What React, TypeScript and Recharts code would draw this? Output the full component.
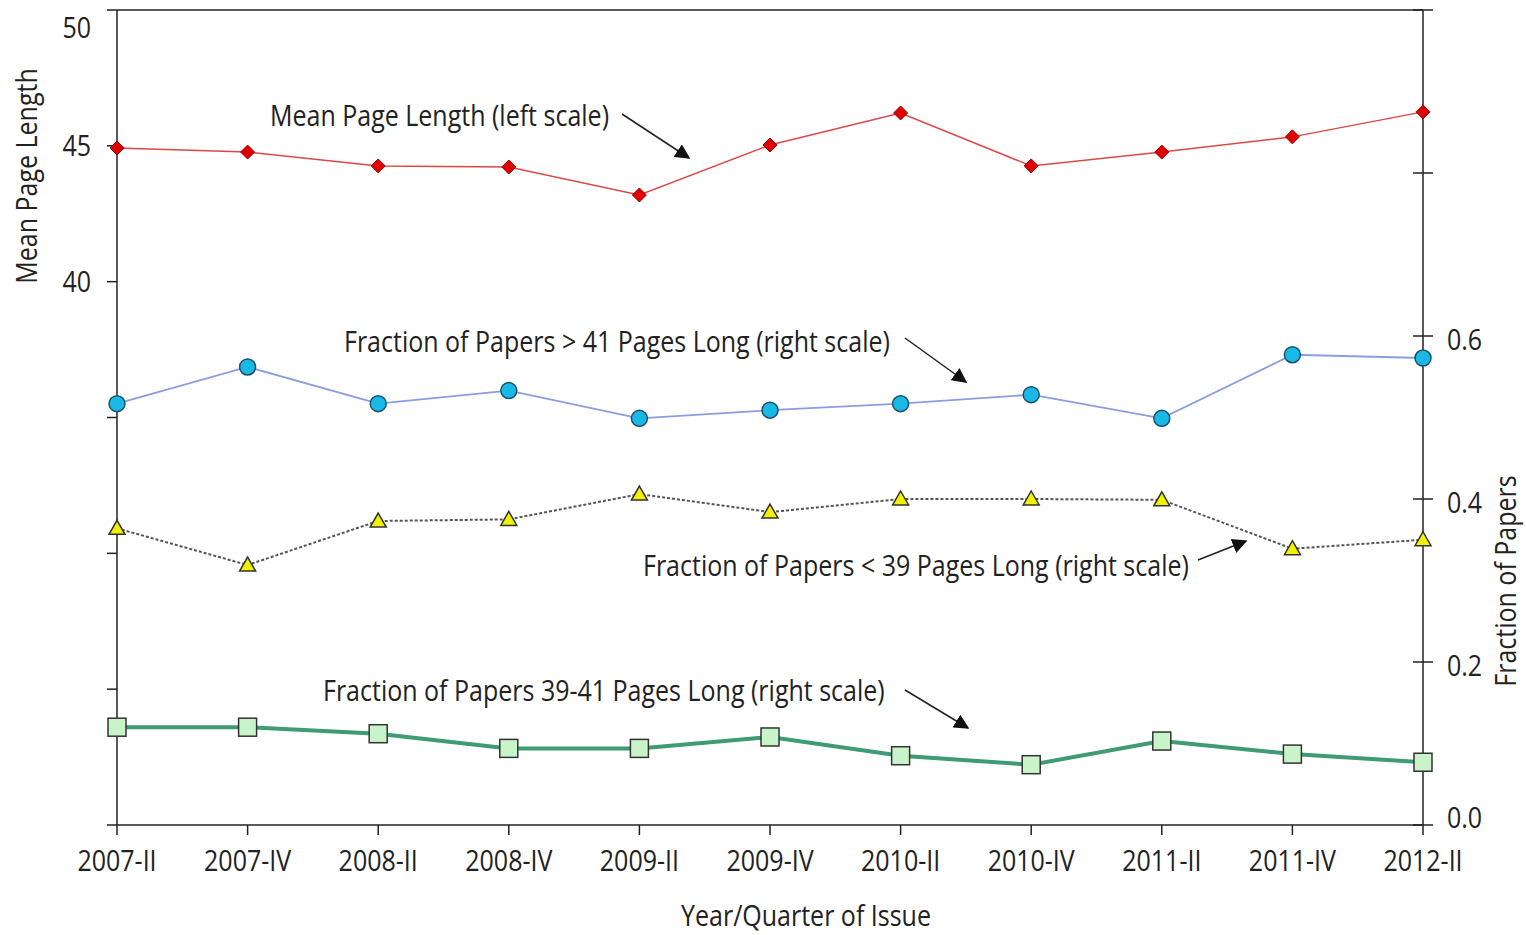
import React from 'react';
import { LineChart, Line, XAxis, YAxis, ReferenceLine } from 'recharts';

// values
const quarters = [
  '2007-II', '2007-IV', '2008-II', '2008-IV', '2009-II', '2009-IV',
  '2010-II', '2010-IV', '2011-II', '2011-IV', '2012-II',
];
const meanPageLength = [44.92, 44.77, 44.26, 44.22, 43.19, 45.03, 46.21, 44.26, 44.77, 45.33, 46.25];
const fracOver41 = [0.517, 0.562, 0.517, 0.533, 0.499, 0.509, 0.517, 0.528, 0.499, 0.577, 0.573];
const fracUnder39 = [0.364, 0.319, 0.373, 0.375, 0.406, 0.384, 0.4, 0.4, 0.399, 0.339, 0.35];
const frac39to41 = [0.12, 0.12, 0.112, 0.094, 0.094, 0.108, 0.085, 0.074, 0.103, 0.087, 0.077];

const leftTicks = [20, 25, 30, 35, 40, 45, 50];
const rightTicks = [0, 0.2, 0.4, 0.6, 0.8, 1.0];

const data = quarters.map((q, i) => ({
  quarter: q,
  mean: meanPageLength[i],
  over41: fracOver41[i],
  under39: fracUnder39[i],
  mid: frac39to41[i],
}));

const FONT = '"Open Sans", "Noto Sans", sans-serif';
const STRETCH = 1.2; // reference lettering is taller than Open Sans

// text centred vertically on (x, y), a little stretched vertically
const T = ({ x, y, anchor = 'start', rotate = 0, size = 25, children }: any) => (
  <text transform={`translate(${x},${y}) rotate(${rotate}) scale(1,${STRETCH})`} dy="0.35em"
    textAnchor={anchor} fontFamily={FONT} fontSize={size} fill="#222">
    {children}
  </text>
);

const Diamond = (p: any) => {
  const { cx, cy } = p;
  if (cx == null || cy == null) return null;
  const s = 7;
  return (
    <path key={`dm-${p.index}`} d={`M${cx},${cy - s}L${cx + s},${cy}L${cx},${cy + s}L${cx - s},${cy}Z`}
      fill="#e00000" stroke="#9a0000" strokeWidth={1} />
  );
};

const Circle = (p: any) => {
  const { cx, cy } = p;
  if (cx == null || cy == null) return null;
  return <circle key={`ci-${p.index}`} cx={cx} cy={cy} r={8} fill="#19b9e6" stroke="#1d4f6e" strokeWidth={1.5} />;
};

const Triangle = (p: any) => {
  const { cx, cy } = p;
  if (cx == null || cy == null) return null;
  return (
    <path key={`tr-${p.index}`} d={`M${cx},${cy - 8}L${cx + 8},${cy + 6}L${cx - 8},${cy + 6}Z`}
      fill="#f2f200" stroke="#333" strokeWidth={1.5} />
  );
};

const Square = (p: any) => {
  const { cx, cy } = p;
  if (cx == null || cy == null) return null;
  return <rect key={`sq-${p.index}`} x={cx - 9} y={cy - 9} width={18} height={18} fill="#c9f3c9" stroke="#333" strokeWidth={1.5} />;
};

const LeftTick = (p: any) => {
  const v = p.payload.value;
  if (v < 40) return null;
  return <T x={p.x} y={v === 50 ? p.y + 17 : p.y} anchor="end">{v}</T>;
};

const RightTick = (p: any) => {
  const v = p.payload.value;
  const ax = p.x - 24;
  return (
    <g>
      <line x1={ax - 10} x2={ax} y1={p.y} y2={p.y} stroke="#222" strokeWidth={1.5} />
      {v <= 0.6 && <T x={p.x} y={v === 0 ? p.y - 8 : p.y + 3}>{v.toFixed(1)}</T>}
    </g>
  );
};

const BottomTick = (p: any) => <T x={p.x} y={p.y + 10} anchor="middle">{p.payload.value}</T>;

const Arrow = ({ x1, y1, x2, y2 }: { x1: number; y1: number; y2: number; x2: number }) => (
  <line x1={x1} y1={y1} x2={x2} y2={y2} stroke="#222" strokeWidth={1.5} markerEnd="url(#arrowHead)" />
);

const Annotations = () => (
  <svg width={1526} height={935} style={{ position: 'absolute', left: 0, top: 0, pointerEvents: 'none' }}>
    <defs>
      <marker id="arrowHead" viewBox="0 0 10 10" refX="9" refY="5" markerWidth="15" markerHeight="15"
        orient="auto" markerUnits="userSpaceOnUse">
        <path d="M0,0L10,5L0,10Z" fill="#111" />
      </marker>
    </defs>
    <T x={270} y={115}>Mean Page Length (left scale)</T>
    <T x={344} y={341}>Fraction of Papers &gt; 41 Pages Long (right scale)</T>
    <T x={643} y={565}>Fraction of Papers &lt; 39 Pages Long (right scale)</T>
    <T x={323} y={690}>Fraction of Papers 39-41 Pages Long (right scale)</T>
    <Arrow x1={622} y1={114} x2={689} y2={158} />
    <Arrow x1={905} y1={338} x2={966} y2={382} />
    <Arrow x1={1198} y1={560} x2={1246} y2={541} />
    <Arrow x1={905} y1={690} x2={968} y2={728} />
    <T x={26} y={176} rotate={-90} anchor="middle">Mean Page Length</T>
    <T x={1505} y={581} rotate={-90} anchor="middle">Fraction of Papers</T>
    <T x={806} y={915} anchor="middle">Year/Quarter of Issue</T>
  </svg>
);

export default function App() {
  return (
    <div style={{ position: 'absolute', left: 0, top: 0, width: 1526, height: 935, background: '#fff' }}>
      <LineChart width={1526} height={935} data={data} margin={{ top: 10, right: 0, bottom: 0, left: 0 }}>
        <XAxis dataKey="quarter" height={110} tickSize={10} tickMargin={15} interval={0}
          stroke="#222" strokeWidth={1.5} tick={<BottomTick />} padding={{ left: 0, right: 0 }} />
        <YAxis yAxisId="left" orientation="left" width={117} domain={[20, 50]} ticks={leftTicks}
          tickSize={10} tickMargin={16} stroke="#222" strokeWidth={1.5} tick={<LeftTick />} />
        <YAxis yAxisId="right" orientation="right" width={103} domain={[0, 1]} ticks={rightTicks}
          tickSize={10} tickMargin={14} stroke="#222" strokeWidth={1.5} tick={<RightTick />} />
        <ReferenceLine yAxisId="left" y={50} stroke="#222" strokeWidth={1.5} />
        <Line yAxisId="left" dataKey="mean" stroke="#dc4848" strokeWidth={1.5}
          dot={Diamond} activeDot={false} isAnimationActive={false} />
        <Line yAxisId="right" dataKey="over41" stroke="#8a9de0" strokeWidth={1.8}
          dot={Circle} activeDot={false} isAnimationActive={false} />
        <Line yAxisId="right" dataKey="under39" stroke="#555" strokeWidth={2} strokeDasharray="3 2"
          dot={Triangle} activeDot={false} isAnimationActive={false} />
        <Line yAxisId="right" dataKey="mid" stroke="#3f9b74" strokeWidth={4}
          dot={Square} activeDot={false} isAnimationActive={false} />
      </LineChart>
      <Annotations />
    </div>
  );
}
